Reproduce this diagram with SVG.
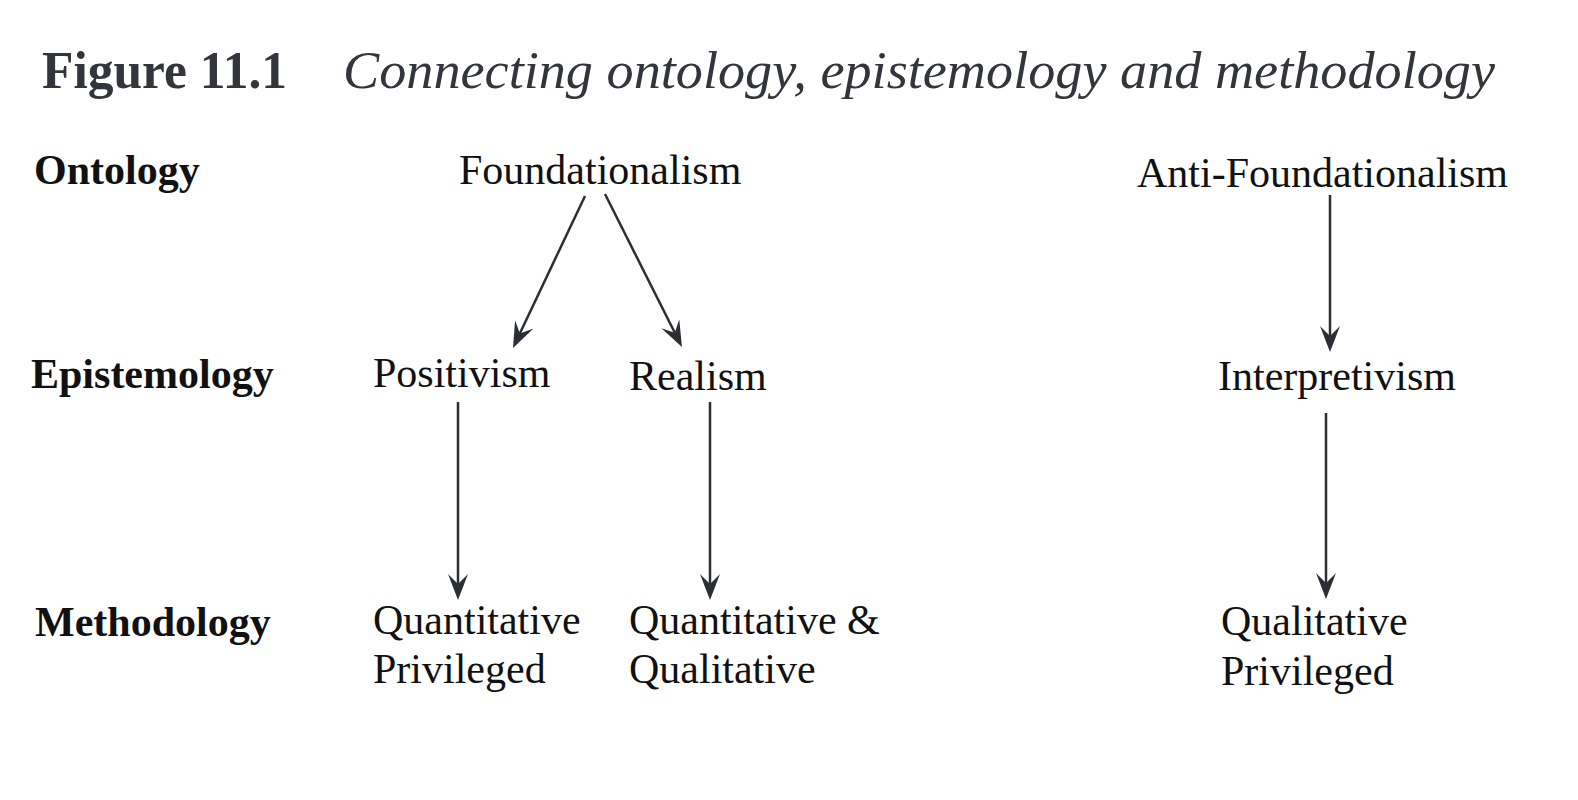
<svg xmlns="http://www.w3.org/2000/svg" width="1578" height="800" viewBox="0 0 1578 800">
<style>
.title{font-family:"Liberation Serif",serif;font-size:52px;fill:#33353c}
.lbl{font-family:"Liberation Serif",serif;font-size:42px;font-weight:bold;fill:#111}
.node{font-family:"Liberation Serif",serif;font-size:42px;fill:#111}
.conn{stroke:#2c2e35;stroke-width:2.5;fill:none;marker-end:url(#arr)}
</style>
<defs>
<marker id="arr" markerUnits="userSpaceOnUse" viewBox="0 0 26 20" markerWidth="26" markerHeight="20" refX="12" refY="10" orient="auto">
<path d="M0,0 L26,10 L0,20 L10,10 Z" fill="#2c2e35"/>
</marker>
</defs>
<rect width="1578" height="800" fill="#fff"/>
<g id="title">
<text class="title" x="42" y="88" font-weight="bold" textLength="245" lengthAdjust="spacingAndGlyphs">Figure 11.1</text>
<text class="title" x="343" y="88" font-style="italic" textLength="1152" lengthAdjust="spacingAndGlyphs">Connecting ontology, epistemology and methodology</text>
</g>
<g id="row-labels">
<text class="lbl" x="34" y="184">Ontology</text>
<text class="lbl" x="31" y="388">Epistemology</text>
<text class="lbl" x="35" y="636">Methodology</text>
</g>
<g id="foundationalism"><text class="node" x="459" y="184">Foundationalism</text></g>
<g id="anti-foundationalism"><text class="node" x="1137" y="187">Anti-Foundationalism</text></g>
<g id="positivism"><text class="node" x="373" y="387">Positivism</text></g>
<g id="realism"><text class="node" x="629" y="390">Realism</text></g>
<g id="interpretivism"><text class="node" x="1218" y="390">Interpretivism</text></g>
<g id="quant-privileged"><text class="node" x="373" y="634">Quantitative</text><text class="node" x="373" y="683">Privileged</text></g>
<g id="quant-qual"><text class="node" x="629" y="634">Quantitative &amp;</text><text class="node" x="629" y="683">Qualitative</text></g>
<g id="qual-privileged"><text class="node" x="1221" y="635">Qualitative</text><text class="node" x="1221" y="685">Privileged</text></g>
<g id="connectors">
<line class="conn" x1="585" y1="196" x2="519" y2="335.3"/>
<line class="conn" x1="605" y1="194" x2="675.7" y2="334.5"/>
<line class="conn" x1="458" y1="402" x2="458" y2="586"/>
<line class="conn" x1="710" y1="402" x2="710" y2="586"/>
<line class="conn" x1="1330" y1="195" x2="1330" y2="338"/>
<line class="conn" x1="1326" y1="413" x2="1326" y2="585"/>
</g>
</svg>
